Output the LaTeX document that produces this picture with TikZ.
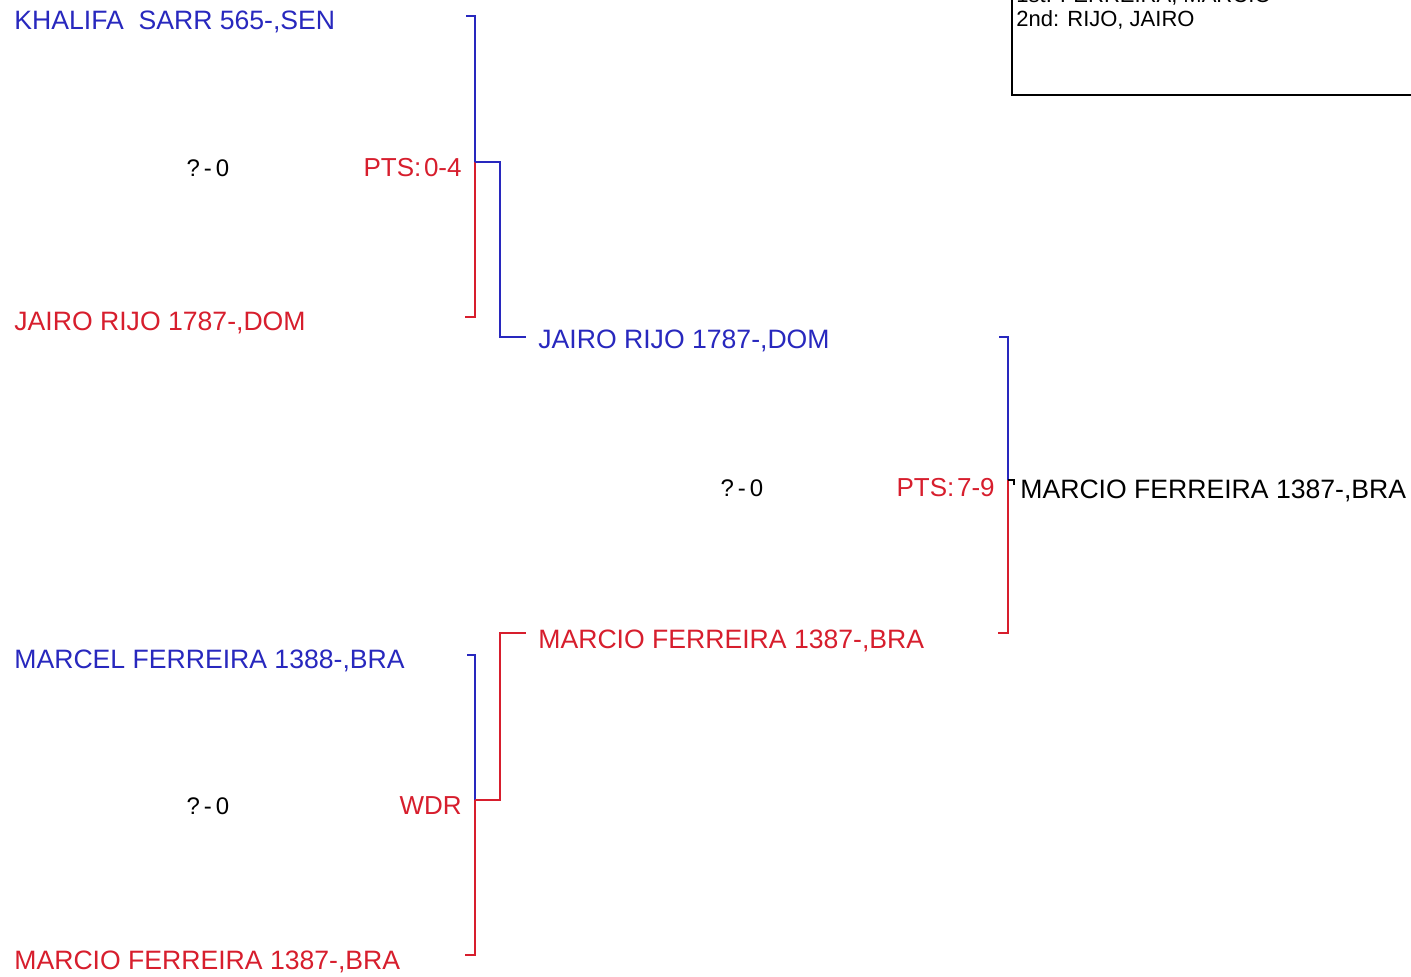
\documentclass[tikz,border=0pt]{standalone}
\usepackage{fontspec}
\setmainfont{Liberation Sans}
\definecolor{pblue}{RGB}{40,40,190}
\definecolor{pred}{RGB}{215,30,45}
\begin{document}
\begin{tikzpicture}[x=0.5pt,y=-0.5pt,
  pname/.style={inner sep=0pt,anchor=base west,font=\fontsize{13.3}{15}\selectfont},
  score/.style={inner sep=0pt,anchor=base,font=\fontsize{12}{14}\selectfont},
  res/.style={inner sep=0pt,anchor=base east,text=pred,font=\fontsize{13}{15}\selectfont},
  boxtext/.style={inner sep=0pt,anchor=base west,font=\fontsize{11}{13}\selectfont},
  bl/.style={draw=pblue,line width=0.6pt},
  rl/.style={draw=pred,line width=0.6pt},
  kl/.style={draw=black,line width=0.6pt}]
\useasboundingbox (0,0) rectangle (1411,977);
\fill[white] (0,0) rectangle (1411,977);
% result box
\draw[kl] (1012,-10) -- (1012,95) -- (1420,95);
\node[boxtext] (first) at (1016,3) {1st: FERREIRA, MARCIO};
\node[boxtext] (second) at (1016,27) {2nd: RIJO, JAIRO};
% round 1 players
\node[pname,text=pblue] (p1) at (14,30) {KHALIFA\ \ SARR 565-,SEN};
\node[pname,text=pred] (p2) at (14,331) {JAIRO RIJO 1787-,DOM};
\node[pname,text=pblue] (p3) at (14,668) {MARCEL FERREIRA 1388-,BRA};
\node[pname,text=pred] (p4) at (14,969) {MARCIO FERREIRA 1387-,BRA};
% round 2
\node[pname,text=pblue] (w1) at (538,349) {JAIRO RIJO 1787-,DOM};
\node[pname,text=pred] (w2) at (538,648) {MARCIO FERREIRA 1387-,BRA};
% final
\node[pname,text=black] (champ) at (1020,499) {MARCIO FERREIRA 1387-,BRA};
% scores and results
\node[score] (s1) at (208,177) {?\,-\,0};
\node[res] (r1) at (462,177) {PTS:\hspace{0.1em}0-4};
\node[score] (s3) at (742,496) {?\,-\,0};
\node[res] (r3) at (995,496) {PTS:\hspace{0.1em}7-9};
\node[score] (s2) at (208,814) {?\,-\,0};
\node[res] (r2) at (462,814) {WDR};
% bracket coordinates
\coordinate (a1) at (466,16);
\coordinate (m1) at (475,162);
\coordinate (b1) at (465,317);
\coordinate (a2) at (467,655);
\coordinate (m2) at (475,800);
\coordinate (b2) at (465,955);
\coordinate (a3) at (999,337);
\coordinate (m3) at (1008,480);
\coordinate (b3) at (998,633);
\coordinate (e1) at (526,337);
\coordinate (e2) at (526,633);
\coordinate (e3) at (1014,480);
% bracket 1
\draw[bl] (a1) -- (a1 -| m1) -- (m1);
\draw[rl] (m1) -- (m1 |- b1) -- (b1);
\draw[bl] (m1) -- ++(25,0) |- (e1);
% bracket 2
\draw[bl] (a2) -- (a2 -| m2) -- (m2);
\draw[rl] (m2) -- (m2 |- b2) -- (b2);
\draw[rl] (m2) -- ++(25,0) |- (e2);
% final bracket
\draw[bl] (a3) -- (a3 -| m3) -- (m3);
\draw[rl] (m3) -- (m3 |- b3) -- (b3);
\draw[kl] (m3) -- (e3) -- ++(0,5);
\end{tikzpicture}
\end{document}
